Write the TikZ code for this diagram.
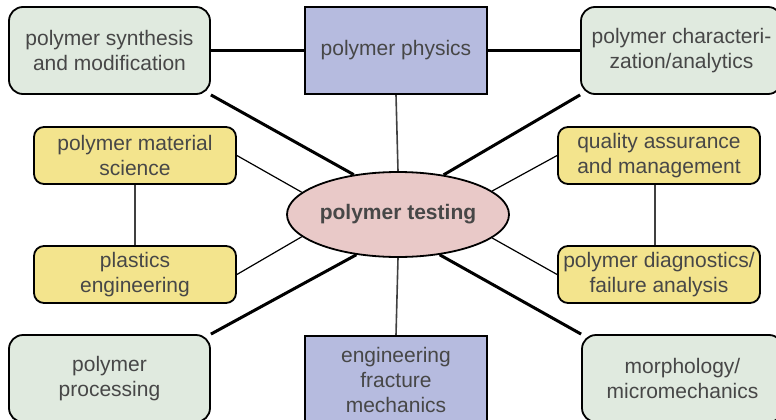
\documentclass[tikz,border=0pt]{standalone}
\usepackage{fontspec}
\setmainfont{Liberation Sans}
\usetikzlibrary{shapes.geometric,backgrounds}
\definecolor{gfill}{HTML}{E0EADF}
\definecolor{bfill}{HTML}{B6BBDF}
\definecolor{yfill}{HTML}{F3E48D}
\definecolor{pfill}{HTML}{E9C9C8}
\definecolor{txt}{HTML}{474747}
\tikzset{
  base/.style={draw=black, line width=1.8pt, text=txt, align=center, inner sep=0pt,
    font=\fontsize{21}{25}\selectfont},
  greenbox/.style={base, fill=gfill, rounded corners=14pt, minimum width=201pt, minimum height=87pt},
  bluebox/.style={base, fill=bfill, minimum width=182pt, minimum height=87pt},
  yellowbox/.style={base, fill=yfill, rounded corners=10pt, minimum width=202pt, minimum height=57pt},
  hub/.style={base, ellipse, fill=pfill, minimum width=222pt, minimum height=85pt,
    font=\fontsize{21}{25}\selectfont\bfseries},
  strong/.style={line width=3pt, black},
  weak/.style={line width=1.2pt, black},
  vert/.style={line width=1.6pt, black!75},
}
\begin{document}
\begin{tikzpicture}[x=1pt,y=-1pt]
\clip (0,0) rectangle (776,420);
\useasboundingbox (0,0) rectangle (776,420);
\node[greenbox] (syn) at (109.5,50.5) {polymer synthesis\\and modification};
\node[bluebox] (phys) at (396,50.5) {polymer physics};
\node[greenbox] (char) at (681.5,50.5) {polymer characteri-\\zation/analytics};
\node[yellowbox] (mat) at (135,155.5) {polymer material\\science};
\node[yellowbox] (qa) at (659,155.5) {quality assurance\\and management};
\node[hub] (pt) at (398,214.5) {polymer testing};
\node[yellowbox] (pe) at (135,274.5) {plastics\\engineering};
\node[yellowbox] (diag) at (659,274.5) {polymer diagnostics/\\failure analysis};
\node[greenbox] (proc) at (109.5,378.5) {polymer\\processing};
\node[bluebox] (frac) at (396,379.5) {engineering\\fracture\\mechanics};
\node[greenbox] (morph) at (682.5,378.5) {morphology/\\micromechanics};
\begin{scope}[on background layer]
\draw[strong] (syn) -- (phys);
\draw[strong] (phys) -- (char);
\draw[vert] (phys.south) -- (pt.north);
\draw[vert] (frac.north) -- (pt.south);
\draw[strong] (syn.south east) -- (pt.138.7);
\draw[strong] (char.south west) -- (pt.41.2);
\draw[strong] (proc.north east) -- (pt.224);
\draw[strong] (morph.north west) -- (pt.316.5);
\draw[weak] (mat.east) -- (pt.167);
\draw[weak] (qa.west) -- (pt.14);
\draw[weak] (pe.east) -- (pt.193);
\draw[weak] (diag.west) -- (pt.346);
\draw[vert] (mat.south) -- (pe.north);
\draw[vert] ([xshift=-4pt]qa.south) -- ([xshift=-4pt]diag.north);
\end{scope}
\end{tikzpicture}
\end{document}
